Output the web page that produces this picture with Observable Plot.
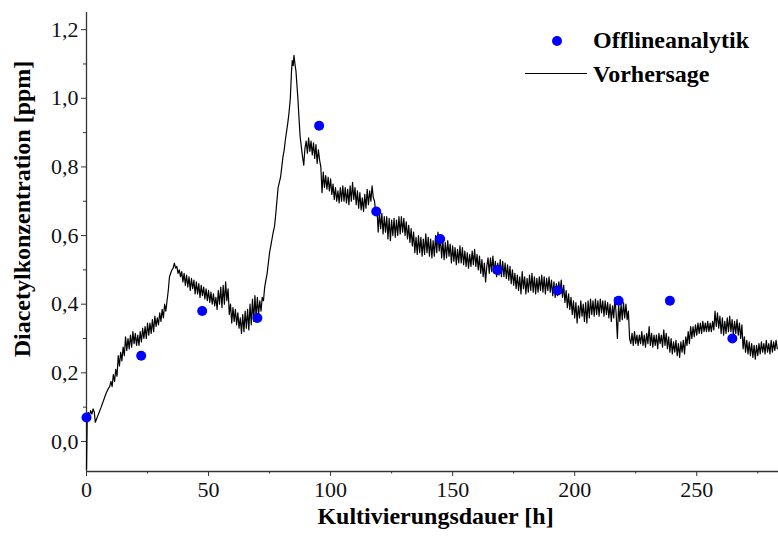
<!DOCTYPE html>
<html>
<head>
<meta charset="utf-8">
<script src="https://cdn.jsdelivr.net/npm/d3@7"></script>
<script src="https://cdn.jsdelivr.net/npm/@observablehq/plot@0.6"></script>
<style>
  html, body { margin: 0; padding: 0; background: #fff; }
  #wrap { position: relative; width: 778px; height: 536px; font-family: "Liberation Serif", "Times New Roman", serif; }
  .lg-text { position: absolute; font-weight: bold; font-size: 24px; line-height: 24px; color: #000; white-space: nowrap; }
  .lg-dot { position: absolute; width: 10px; height: 10px; border-radius: 50%; background: #0000ff; }
  .lg-line { position: absolute; height: 0; border-top: 1.3px solid #000; }
  .ylab { position: absolute; left: 22px; top: 209px; transform: translate(-50%, -50%) rotate(-90deg); font-weight: bold; font-size: 24px; line-height: 24px; white-space: nowrap; color: #000; }
</style>
</head>
<body>
<div id="wrap">
  <div id="chart"></div>
  <div class="ylab">Diacetylkonzentration [ppm]</div>
  <div class="lg-dot" style="left:552px; top:36px;"></div>
  <div class="lg-text" style="left:593px; top:28px;">Offlineanalytik</div>
  <div class="lg-line" style="left:525px; top:73px; width:62px;"></div>
  <div class="lg-text" style="left:593px; top:62px;">Vorhersage</div>
</div>
<script>
// Offline analysis samples
const offlineHours = [0, 22.4, 47.4, 70, 95.3, 118.7, 144.9, 168.3, 193, 218, 239, 264.6];
const offlinePpm   = [0.07, 0.25, 0.38, 0.36, 0.92, 0.67, 0.59, 0.50, 0.44, 0.41, 0.41, 0.30];

// Prediction curve [hours, ppm]
const vorhersage = [
[0,-0.08],[0.3,0.07],[0.7,0.085],[1.2,0.075],[1.7,0.09],[2.2,0.08],[2.7,0.095],[3.2,0.085],[3.6,0.056],
[6,0.10],[8,0.14],[9,0.155],[9.5,0.16],[10,0.175],[10.5,0.16],[11,0.195],[11.5,0.175],
[12,0.21],[12.5,0.19],[13,0.25],[13.5,0.22],[14,0.26],[14.5,0.235],[15,0.275],[15.5,0.25],[16,0.305],[16.5,0.265],
[17,0.30],[17.5,0.27],[18,0.31],[18.5,0.275],[19,0.32],[19.5,0.285],[20,0.315],[20.5,0.28],[21,0.31],[21.5,0.28],
[22,0.32],[22.5,0.29],[23,0.33],[23.5,0.30],[24,0.335],[24.5,0.30],[25,0.345],[25.5,0.31],[26,0.345],[26.5,0.315],
[27,0.355],[27.5,0.32],[28,0.365],[28.5,0.335],[29,0.36],[29.5,0.34],[30,0.375],[30.5,0.35],[31,0.385],[31.5,0.36],
[32,0.40],[32.5,0.38],[33,0.41],[33.5,0.44],[34,0.48],[34.5,0.49],[35,0.5],[35.5,0.505],
[36,0.52],[36.5,0.505],[37,0.51],[37.5,0.49],[38,0.50],[38.5,0.48],[39,0.495],[39.5,0.465],[40,0.49],[40.5,0.455],
[41,0.485],[41.5,0.45],[42,0.48],[42.5,0.44],[43,0.475],[43.5,0.445],[44,0.47],[44.5,0.43],[45,0.465],[45.5,0.43],
[46,0.46],[46.5,0.42],[47,0.455],[47.5,0.425],[48,0.45],[48.5,0.415],[49,0.445],[49.5,0.41],[50,0.44],[50.5,0.405],
[51,0.435],[51.5,0.40],[52,0.43],[52.5,0.395],[53,0.42],[53.5,0.385],[54,0.44],[54.5,0.40],[55,0.45],[55.5,0.39],
[56,0.455],[56.5,0.40],[57,0.465],[57.5,0.41],[58,0.445],[58.5,0.37],[59,0.40],[59.5,0.345],[60,0.39],[60.5,0.35],
[61,0.385],[61.5,0.34],[62,0.375],[62.5,0.33],[63,0.36],[63.5,0.315],[64,0.37],[64.5,0.32],[65,0.38],[65.5,0.33],
[66,0.385],[66.5,0.325],[67,0.40],[67.5,0.34],[68,0.415],[68.5,0.35],[69,0.425],[69.5,0.36],[70,0.42],[70.5,0.37],
[71,0.41],[71.5,0.38],[72,0.42],[72.5,0.41],[73,0.45],[73.5,0.47],[74,0.49],[74.5,0.52],[75,0.55],[75.5,0.57],
[76,0.59],[76.5,0.61],[77,0.625],[77.5,0.66],[78,0.70],[78.5,0.74],[79,0.755],[79.5,0.77],[80,0.80],[80.5,0.83],
[81,0.85],[81.5,0.88],[82,0.905],[82.5,0.93],[83,0.96],[83.5,1.0],[84,1.08],[84.3,1.11],[84.7,1.095],[85,1.125],
[85.4,1.10],[85.8,1.08],[86.2,1.04],[86.6,1.0],[87,0.95],[87.5,0.89],
[88,0.86],[88.5,0.83],[89,0.805],[89.5,0.855],[90,0.875],[90.5,0.84],[91,0.885],[91.5,0.845],[92,0.875],[92.5,0.835],
[93,0.87],[93.5,0.825],[94,0.865],[94.5,0.81],[95,0.85],[95.5,0.82],[96,0.80],[96.5,0.725],[97,0.785],[97.5,0.74],
[98,0.775],[98.5,0.735],[99,0.77],[99.5,0.73],[100,0.765],[100.5,0.72],[101,0.75],[101.5,0.705],[102,0.74],[102.5,0.70],
[103,0.73],[103.5,0.695],[104,0.74],[104.5,0.70],[105,0.745],[105.5,0.70],[106,0.74],[106.5,0.695],[107,0.735],[107.5,0.69],
[108,0.745],[108.5,0.70],[109,0.755],[109.5,0.705],[110,0.74],[110.5,0.69],[111,0.73],[111.5,0.68],[112,0.725],[112.5,0.675],
[113,0.71],[113.5,0.67],[114,0.72],[114.5,0.68],[115,0.735],[115.5,0.69],[116,0.73],[116.5,0.70],[117,0.745],[117.5,0.71],
[118,0.70],[118.5,0.665],[119,0.68],[119.5,0.61],[120,0.67],[120.5,0.62],[121,0.665],[121.5,0.605],[122,0.655],[122.5,0.61],
[123,0.655],[123.5,0.59],[124,0.65],[124.5,0.585],[125,0.645],[125.5,0.60],[126,0.65],[126.5,0.595],[127,0.645],[127.5,0.60],
[128,0.655],[128.5,0.605],[129,0.655],[129.5,0.61],[130,0.65],[130.5,0.60],[131,0.64],[131.5,0.59],[132,0.63],[132.5,0.58],
[133,0.62],[133.5,0.57],[134,0.61],[134.5,0.55],[135,0.595],[135.5,0.545],[136,0.60],[136.5,0.55],[137,0.595],[137.5,0.54],
[138,0.59],[138.5,0.545],[139,0.605],[139.5,0.55],[140,0.595],[140.5,0.54],[141,0.59],[141.5,0.535],[142,0.585],[142.5,0.54],
[143,0.60],[143.5,0.55],[144,0.61],[144.5,0.555],[145,0.595],[145.5,0.535],[146,0.585],[146.5,0.53],[147,0.58],[147.5,0.535],
[148,0.585],[148.5,0.54],[149,0.575],[149.5,0.52],[150,0.57],[150.5,0.525],[151,0.565],[151.5,0.515],[152,0.56],[152.5,0.52],
[153,0.57],[153.5,0.52],[154,0.565],[154.5,0.515],[155,0.555],[155.5,0.51],[156,0.55],[156.5,0.505],[157,0.545],[157.5,0.51],
[158,0.555],[158.5,0.515],[159,0.56],[159.5,0.51],[160,0.545],[160.5,0.50],[161,0.54],[161.5,0.49],[162,0.53],[162.5,0.48],
[163,0.52],[163.5,0.465],[164,0.51],[164.5,0.535],[165,0.49],[165.5,0.535],[166,0.495],[166.5,0.54],[167,0.49],[167.5,0.525],
[168,0.48],[168.5,0.52],[169,0.485],[169.5,0.53],[170,0.48],[170.5,0.525],[171,0.48],[171.5,0.52],[172,0.475],[172.5,0.515],
[173,0.47],[173.5,0.51],[174,0.46],[174.5,0.50],[175,0.455],[175.5,0.49],[176,0.445],[176.5,0.485],[177,0.44],[177.5,0.48],
[178,0.43],[178.5,0.495],[179,0.445],[179.5,0.48],[180,0.43],[180.5,0.475],[181,0.435],[181.5,0.485],[182,0.44],[182.5,0.49],
[183,0.435],[183.5,0.48],[184,0.43],[184.5,0.475],[185,0.435],[185.5,0.48],[186,0.44],[186.5,0.485],[187,0.435],[187.5,0.48],
[188,0.43],[188.5,0.475],[189,0.44],[189.5,0.48],[190,0.435],[190.5,0.47],[191,0.425],[191.5,0.465],[192,0.42],[192.5,0.46],
[193,0.425],[193.5,0.465],[194,0.435],[194.5,0.47],[195,0.42],[195.5,0.455],[196,0.405],[196.5,0.44],[197,0.39],[197.5,0.43],
[198,0.385],[198.5,0.42],[199,0.37],[199.5,0.41],[200,0.36],[200.5,0.405],[201,0.345],[201.5,0.395],[202,0.36],[202.5,0.41],
[203,0.365],[203.5,0.40],[204,0.35],[204.5,0.405],[205,0.345],[205.5,0.41],[206,0.36],[206.5,0.415],[207,0.37],[207.5,0.41],
[208,0.365],[208.5,0.415],[209,0.37],[209.5,0.41],[210,0.365],[210.5,0.415],[211,0.375],[211.5,0.41],[212,0.365],[212.5,0.41],
[213,0.37],[213.5,0.405],[214,0.36],[214.5,0.40],[215,0.35],[215.5,0.395],[216,0.36],[216.5,0.42],[217,0.37],[217.5,0.30],
[218,0.40],[218.5,0.35],[219,0.40],[219.5,0.355],[220,0.405],[220.5,0.36],[221,0.40],[221.5,0.355],[222,0.38],[222.5,0.30],
[223,0.285],[223.5,0.315],[224,0.28],[224.5,0.32],[225,0.285],[225.5,0.31],[226,0.28],[226.5,0.31],[227,0.285],[227.5,0.32],
[228,0.28],[228.5,0.31],[229,0.275],[229.5,0.315],[230,0.285],[230.5,0.335],[231,0.28],[231.5,0.315],[232,0.275],[232.5,0.31],
[233,0.28],[233.5,0.31],[234,0.27],[234.5,0.315],[235,0.285],[235.5,0.31],[236,0.275],[236.5,0.325],[237,0.28],[237.5,0.315],
[238,0.27],[238.5,0.305],[239,0.26],[239.5,0.30],[240,0.255],[240.5,0.29],[241,0.26],[241.5,0.295],[242,0.25],[242.5,0.285],
[243,0.245],[243.5,0.29],[244,0.26],[244.5,0.295],[245,0.255],[245.5,0.305],[246,0.28],[246.5,0.32],[247,0.285],[247.5,0.335],
[248,0.30],[248.5,0.335],[249,0.305],[249.5,0.34],[250,0.31],[250.5,0.345],[251,0.315],[251.5,0.345],[252,0.315],[252.5,0.35],
[253,0.32],[253.5,0.345],[254,0.32],[254.5,0.35],[255,0.32],[255.5,0.345],[256,0.32],[256.5,0.35],[257,0.325],[257.5,0.38],
[258,0.335],[258.5,0.375],[259,0.33],[259.5,0.365],[260,0.315],[260.5,0.36],[261,0.31],[261.5,0.35],[262,0.315],[262.5,0.36],
[263,0.32],[263.5,0.365],[264,0.32],[264.5,0.355],[265,0.31],[265.5,0.35],[266,0.315],[266.5,0.355],[267,0.31],[267.5,0.345],
[268,0.30],[268.5,0.34],[269,0.27],[269.5,0.305],[270,0.26],[270.5,0.295],[271,0.255],[271.5,0.29],[272,0.25],[272.5,0.285],
[273,0.245],[273.5,0.28],[274,0.24],[274.5,0.28],[275,0.25],[275.5,0.285],[276,0.255],[276.5,0.29],[277,0.26],[277.5,0.285],
[278,0.255],[278.5,0.295],[279,0.26],[279.5,0.285],[280,0.255],[280.5,0.295],[281,0.26],[281.5,0.29],[282,0.265],[282.5,0.295],
[283,0.27]
];

// Axis ticks
const xMajor = [0, 50, 100, 150, 200, 250];
const xMinor = [25, 75, 125, 175, 225, 275];
const yMajor = [0, 0.2, 0.4, 0.6, 0.8, 1.0, 1.2];
const yMinor = [0.1, 0.3, 0.5, 0.7, 0.9, 1.1];
const yDomain = [-0.0875, 1.25];
const xDomain = [0, 283.5];

const offline = offlineHours.map((h, i) => ({h, v: offlinePpm[i]}));
const fmt = d => d.toFixed(1).replace(".", ",");

const chart = Plot.plot({
  width: 778,
  height: 536,
  marginLeft: 86,
  marginRight: 0,
  marginTop: 12,
  marginBottom: 65,
  style: {fontFamily: "'Liberation Serif', 'Times New Roman', serif", fontSize: "22px", color: "#111", background: "#fff"},
  x: {domain: xDomain, label: null},
  y: {domain: yDomain, label: null},
  marks: [
    Plot.axisX({ticks: xMinor, tickSize: 2.5, tickFormat: () => "", stroke: "#333"}),
    Plot.axisX({ticks: xMajor, tickSize: 5, tickPadding: 5, tickFormat: d => String(d), stroke: "#333"}),
    Plot.axisY({ticks: yMinor, tickSize: 3, tickFormat: () => "", stroke: "#333"}),
    Plot.axisY({ticks: yMajor, tickSize: 5, tickPadding: 3, tickFormat: fmt, stroke: "#333"}),
    Plot.ruleX([0], {stroke: "#333", strokeWidth: 1.3}),
    Plot.ruleY([yDomain[0]], {stroke: "#333", strokeWidth: 1.3}),
    Plot.line(vorhersage, {x: d => d[0], y: d => d[1], stroke: "#000", strokeWidth: 1.2}),
    Plot.dot(offline, {x: "h", y: "v", r: 5, fill: "#0000ff", stroke: "none"}),
    Plot.text(["Kultivierungsdauer [h]"], {frameAnchor: "bottom", dx: 3, dy: 52, fontWeight: "bold", fontSize: 24, fill: "#000"})
  ]
});
document.getElementById("chart").appendChild(chart);
</script>
</body>
</html>
